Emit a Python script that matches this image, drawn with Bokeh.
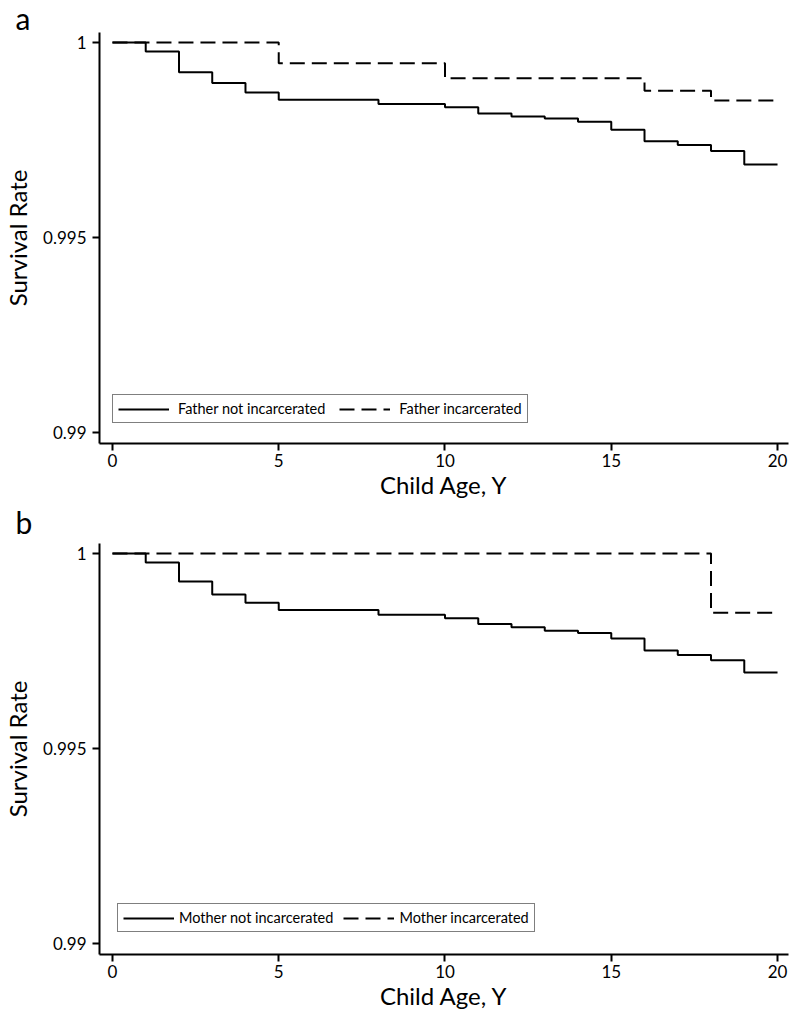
from bokeh.plotting import figure
from bokeh.models import Range1d, FixedTicker, Legend, LegendItem
from bokeh.layouts import column
from bokeh.embed import file_html
from bokeh.resources import INLINE

# ---- data ----
ages_not = [0, 1, 2, 3, 4, 5, 8, 10, 11, 12, 13, 14, 15, 16, 17, 18, 19, 20]
father_not = [1.0, 0.99977, 0.99924, 0.99896, 0.99872, 0.99853, 0.99842, 0.99834, 0.99818,
              0.99810, 0.99805, 0.99797, 0.99776, 0.99747, 0.99737, 0.99722, 0.99687, 0.99687]
ages_father_inc = [0, 5, 10, 16, 18, 20]
father_inc = [1.0, 0.99947, 0.99908, 0.99876, 0.99851, 0.99851]

mother_not = [1.0, 0.99977, 0.99928, 0.99895, 0.99874, 0.99855, 0.99843, 0.99834, 0.99819,
              0.99811, 0.99802, 0.99796, 0.99782, 0.99751, 0.99740, 0.99726, 0.99695, 0.99695]
ages_mother_inc = [0, 18, 20]
mother_inc = [1.0, 0.99848, 0.99848]

x_ticks = [0, 5, 10, 15, 20]
y_ticks = [0.99, 0.995, 1.0]
y_tick_labels = ["0.99", "0.995", "1"]

FONT = "Lato"


def make_panel(letter, standoff, xs1, ys1, name1, xs2, ys2, name2,
               height, top, bottom, legend_loc, leg_spacing, leg_standoff):
    p = figure(width=790, height=height, output_backend="svg", toolbar_location=None,
               x_range=Range1d(-0.39, 20.33), y_range=Range1d(0.98972, 1.000256),
               min_border_left=96, min_border_right=2, min_border_top=top,
               min_border_bottom=bottom)
    p.outline_line_color = None
    p.xgrid.visible = False
    p.ygrid.visible = False
    p.background_fill_color = "white"

    p.title.text = letter
    p.title.text_font = FONT
    p.title.text_font_size = "30px"
    p.title.text_font_style = "normal"
    p.title.text_color = "black"
    p.title.align = "left"
    p.title.vertical_align = "top"
    p.title.offset = -84
    p.title.standoff = standoff

    for ax in (p.xaxis[0], p.yaxis[0]):
        ax.axis_line_width = 2
        ax.axis_line_color = "black"
        ax.major_tick_line_width = 2
        ax.major_tick_line_color = "black"
        ax.major_tick_in = 0
        ax.major_tick_out = 7
        ax.minor_tick_line_color = None
        ax.major_label_text_font = FONT
        ax.major_label_text_font_size = "17px"
        ax.major_label_text_color = "black"
        ax.axis_label_text_font = FONT
        ax.axis_label_text_font_size = "24px"
        ax.axis_label_text_font_style = "normal"
        ax.axis_label_text_color = "black"

    p.xaxis.ticker = FixedTicker(ticks=x_ticks)
    p.yaxis.ticker = FixedTicker(ticks=y_ticks)
    p.yaxis.major_label_overrides = {t: l for t, l in zip(y_ticks, y_tick_labels)}
    p.yaxis.major_label_orientation = "horizontal"
    p.xaxis.major_label_standoff = 3
    p.yaxis.major_label_standoff = 6
    p.xaxis.axis_label_standoff = 0
    p.yaxis.axis_label_standoff = 8
    p.xaxis.axis_label = "Child Age, Y"
    p.yaxis.axis_label = "Survival Rate"

    r1 = p.step(xs1, ys1, mode="after", line_color="black", line_width=2)
    r2 = p.step(xs2, ys2, mode="after", line_color="black", line_width=2, line_dash="15 7")

    leg = Legend(items=[LegendItem(label=name1, renderers=[r1]),
                        LegendItem(label=name2, renderers=[r2])],
                 orientation="horizontal", location=legend_loc)
    leg.label_text_font = FONT
    leg.label_text_font_size = "14.5px"
    leg.label_text_color = "black"
    leg.border_line_color = "black"
    leg.border_line_width = 1.5
    leg.background_fill_alpha = 1.0
    leg.padding = 5
    leg.margin = 0
    leg.spacing = leg_spacing
    leg.glyph_width = 51
    leg.glyph_height = 16
    leg.label_height = 16
    leg.label_standoff = leg_standoff
    p.add_layout(leg, "center")
    return p


pa = make_panel("a", -11, ages_not, father_not, "Father not incarcerated",
                ages_father_inc, father_inc, "Father incarcerated", 501, 32, 58, (13, 20), 14, 9)
pb = make_panel("b", 4, ages_not, mother_not, "Mother not incarcerated",
                ages_mother_inc, mother_inc, "Mother incarcerated", 511, 42, 58, (18, 22), 10, 5)

layout = column(pa, pb, spacing=0)
open("out.html", "w").write(file_html(layout, INLINE))
